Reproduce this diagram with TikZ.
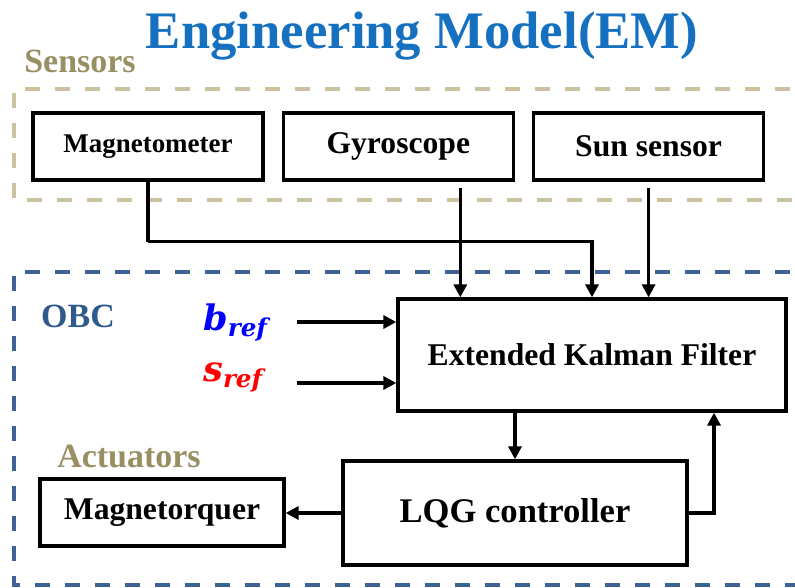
\RequirePackage{fix-cm}
\documentclass[tikz,border=0pt]{standalone}
\usepackage{fontspec}
\setmainfont{Liberation Serif}
\newfontfamily\reffont{DejaVu Serif}
\usepackage{amsmath}
\usepackage{xcolor}
\usepackage{tikz}
\usetikzlibrary{arrows.meta, positioning, calc}

\definecolor{titleblue}{HTML}{1670C0}
\definecolor{sensorolive}{HTML}{988F62}
\definecolor{sandframe}{HTML}{CBC39F}
\definecolor{obcblue}{HTML}{3C6393}
\definecolor{obctext}{HTML}{2E5A8C}

\newcommand{\refsym}[1]{$\text{\reffont\bfseries\itshape #1}_{\text{\reffont\bfseries\itshape ref}}$}

\begin{document}
\begin{tikzpicture}[
    x=0.03cm, y=-0.03cm,
    node distance=0.51cm,
    block/.style={rectangle, draw, line width=2.8pt, align=center, font=\bfseries\fontsize{27}{30}\selectfont},
    sensorbox/.style={block, minimum width=6.9cm, minimum height=2.01cm},
    arrow/.style={-{Triangle[length=11pt,width=11pt]}, line width=2.8pt},
    groupframe/.style={dash pattern=on 12.8pt off 12.8pt, line width=3pt},
    grouplabel/.style={anchor=base, font=\bfseries\fontsize{29}{32}\selectfont},
    reflabel/.style={anchor=base west, inner sep=0pt, font=\fontsize{30}{34}\selectfont}
]
\useasboundingbox (0,0) rectangle (795,587);

% Group frames
\draw [groupframe, draw=sandframe] (820,89) -- (14,89) -- (14,200) -- (820,200);
\draw [groupframe, draw=obcblue] (820,272) -- (14,272) -- (14,585) -- (820,585);

% Labels
\node [anchor=base, text=titleblue, font=\bfseries\fontsize{45}{48}\selectfont] (title) at (422,48) {Engineering Model(EM)};
\node [grouplabel, text=sensorolive] (sensors) at (80,72) {Sensors};
\node [grouplabel, text=obctext] (obc) at (78,327) {OBC};
\node [grouplabel, text=sensorolive] (actuators) at (129,467) {Actuators};

% Nodes
\node [sensorbox, font=\bfseries\fontsize{23}{26}\selectfont] (mag) at (148,146.5) {Magnetometer};
\node [sensorbox, right=of mag] (gyro) {Gyroscope};
\node [sensorbox, right=of gyro] (sun) {Sun sensor};
\node [block, minimum width=11.64cm, minimum height=3.36cm] (ekf) at (592,355) {Extended Kalman Filter};
\node [block, minimum width=10.32cm, minimum height=3.12cm, font=\bfseries\fontsize{29.5}{32}\selectfont] (lqg) at (515,513) {LQG controller};
\node [block, minimum width=7.32cm, minimum height=2.01cm] (mtq) at (162,512.5) {Magnetorquer};
\node [reflabel, text=blue] (bref) at (203,330) {\refsym{b}};
\node [reflabel, text=red] (sref) at (203,381) {\refsym{s}};

% Sensor paths
\draw [line width=2.8pt] (mag.south) -- ++(0,60) coordinate (magturn);
\draw [arrow] (magturn) -| (ekf.north);
\draw [arrow] ([xshift=1.86cm, yshift=-0.2cm]gyro.south) -- ([xshift=1.86cm]gyro.south |- ekf.north);
\draw [arrow] ([yshift=-0.2cm]sun.south) -- (sun.south |- ekf.north);

% Reference inputs
\draw [arrow] (297,322) coordinate (bstart) -- (bstart -| ekf.west);
\draw [arrow] (297,383) coordinate (sstart) -- (sstart -| ekf.west);

% Control loop
\draw [arrow] (lqg.north |- ekf.south) -- (lqg.north);
\draw [arrow] (lqg.east) -| ([xshift=3.66cm]ekf.south);
\draw [arrow] (lqg.west) -- (lqg.west -| mtq.east);

\end{tikzpicture}
\end{document}
